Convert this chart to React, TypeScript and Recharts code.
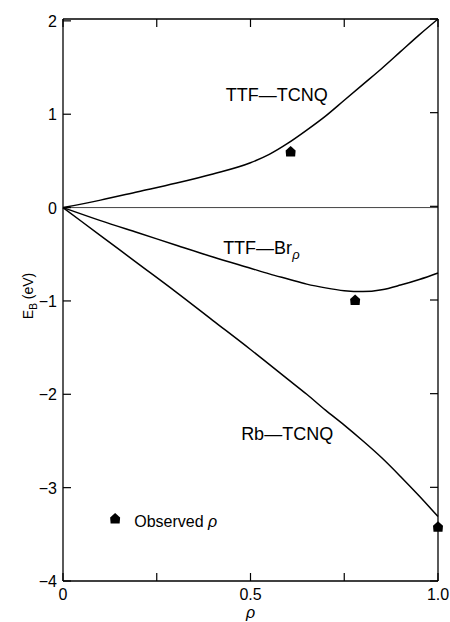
import React from "react";
import {
  ComposedChart,
  Line,
  Scatter,
  XAxis,
  YAxis,
  ReferenceLine,
  ReferenceDot,
} from "recharts";

// ---- data ----
const rhoGrid = [0, 0.1, 0.2, 0.3, 0.4, 0.5, 0.55, 0.6, 0.65, 0.7, 0.75, 0.8, 0.85, 0.9, 0.95, 1.0];
const ttfTcnq = [0, 0.08, 0.17, 0.26, 0.36, 0.48, 0.57, 0.69, 0.83, 0.98, 1.15, 1.32, 1.49, 1.67, 1.85, 2.02];
const ttfBr = [0, -0.14, -0.27, -0.4, -0.53, -0.65, -0.71, -0.765, -0.82, -0.86, -0.89, -0.9, -0.88, -0.83, -0.77, -0.7];
const rbTcnq = [0, -0.3, -0.6, -0.9, -1.21, -1.52, -1.68, -1.84, -2.0, -2.17, -2.33, -2.5, -2.68, -2.88, -3.09, -3.31];

const obsRho = [0.607, 0.779, 1.0];
const obsE = [0.6, -0.99, -3.42];

const xTicks = [0, 0.25, 0.5, 0.75, 1];
const xTickLabels: Record<string, string> = { "0": "0", "0.5": "0.5", "1": "1.0" };
const yTicks = [-4, -3, -2, -1, 0, 1, 2];

const curveLabels = [
  { name: "TTF\u2014TCNQ", rho: 0.434, e: 1.14, sub: "" },
  { name: "TTF\u2014Br", rho: 0.427, e: -0.5, sub: "\u03c1" },
  { name: "Rb\u2014TCNQ", rho: 0.475, e: -2.49, sub: "" },
];
const legendPos = { rho: 0.139, e: -3.33 };
const legendText = { rho: 0.19, e: -3.42, text: "Observed " };

const mk = (ys: number[]) => rhoGrid.map((r, i) => ({ rho: r, E: ys[i] }));
const tcnqData = mk(ttfTcnq);
const brData = mk(ttfBr);
const rbData = mk(rbTcnq);
const obsData = obsRho.map((r, i) => ({ rho: r, E: obsE[i] }));

const FONT = "'Liberation Sans', Arial, Helvetica, sans-serif";
const TL = 8;

const House = ({ cx, cy }: any) => (
  <polygon
    points={`${cx},${cy - 5.5} ${cx + 5},${cy - 1} ${cx + 4.5},${cy + 5} ${cx - 4.5},${cy + 5} ${cx - 5},${cy - 1}`}
    fill="#000"
  />
);

const BottomTick = ({ x, y, payload }: any) => {
  const lab = xTickLabels[String(payload.value)] ?? "";
  return (
    <g>
      <line x1={x} x2={x} y1={y} y2={y - TL} stroke="#000" strokeWidth={1.2} />
      {lab && (
        <text x={x} y={y + 19} textAnchor="middle" fontSize={16} fontFamily={FONT} fill="#000">
          {lab}
        </text>
      )}
    </g>
  );
};
const TopTick = ({ x, y }: any) => (
  <line x1={x} x2={x} y1={y} y2={y + TL} stroke="#000" strokeWidth={1.2} />
);
const LeftTick = ({ x, y, payload }: any) => (
  <g>
    <line x1={x} x2={x + TL} y1={y} y2={y} stroke="#000" strokeWidth={1.2} />
    <text x={x - 6} y={y + 6} textAnchor="end" fontSize={16} fontFamily={FONT} fill="#000">
      {payload.value < 0 ? "\u2212" + Math.abs(payload.value) : String(payload.value)}
    </text>
  </g>
);
const RightTick = ({ x, y }: any) => (
  <line x1={x} x2={x - TL} y1={y} y2={y} stroke="#000" strokeWidth={1.2} />
);

const YLabel = ({ viewBox }: any) => {
  const cx = 33;
  const cy = viewBox.y + viewBox.height / 2 - 4;
  return (
    <text
      x={cx}
      y={cy}
      transform={`rotate(-90, ${cx}, ${cy})`}
      textAnchor="middle"
      fontSize={14}
      fontFamily={FONT}
      fill="#000"
    >
      E<tspan fontSize={10} dy={4}>B</tspan>
      <tspan dy={-4}> (eV)</tspan>
    </text>
  );
};
const XLabel = ({ viewBox }: any) => (
  <text
    x={viewBox.x + viewBox.width / 2}
    y={618}
    textAnchor="middle"
    fontSize={16}
    fontStyle="italic"
    fontFamily={FONT}
    fill="#000"
  >
    {"\u03c1"}
  </text>
);

export default function App() {
  return (
    <div style={{ position: "absolute", left: 0, top: 0, background: "#fff" }}>
      <ComposedChart width={450} height={622} margin={{ top: 18, right: 11, left: 0, bottom: 0 }}>
        <XAxis
          dataKey="rho"
          type="number"
          domain={[0, 1]}
          ticks={xTicks}
          height={41}
          tickSize={0}
          tickMargin={0}
          axisLine={{ stroke: "#000", strokeWidth: 1.3 }}
          tick={<BottomTick />}
          label={<XLabel />}
        />
        <XAxis
          xAxisId="top"
          orientation="top"
          dataKey="rho"
          type="number"
          domain={[0, 1]}
          ticks={xTicks}
          height={1}
          tickSize={0}
          tickMargin={0}
          axisLine={{ stroke: "#000", strokeWidth: 1.3 }}
          tick={<TopTick />}
        />
        <YAxis
          type="number"
          domain={[-4, 2]}
          ticks={yTicks}
          width={63}
          tickSize={0}
          tickMargin={0}
          axisLine={{ stroke: "#000", strokeWidth: 1.3 }}
          tick={<LeftTick />}
          label={<YLabel />}
        />
        <YAxis
          yAxisId="right"
          orientation="right"
          type="number"
          domain={[-4, 2]}
          ticks={yTicks}
          width={1}
          tickSize={0}
          tickMargin={0}
          axisLine={{ stroke: "#000", strokeWidth: 1.3 }}
          tick={<RightTick />}
        />
        <ReferenceLine y={0} stroke="#444" strokeWidth={1} />
        <Line data={tcnqData} dataKey="E" type="monotone" stroke="#000" strokeWidth={1.5} dot={false} isAnimationActive={false} />
        <Line data={brData} dataKey="E" type="monotone" stroke="#000" strokeWidth={1.5} dot={false} isAnimationActive={false} />
        <Line data={rbData} dataKey="E" type="monotone" stroke="#000" strokeWidth={1.5} dot={false} isAnimationActive={false} />
        <Line
          data={rbData}
          dataKey="E"
          xAxisId="top"
          yAxisId="right"
          stroke="none"
          dot={false}
          activeDot={false}
          legendType="none"
          isAnimationActive={false}
        />
        <Scatter data={obsData} dataKey="E" shape={<House />} isAnimationActive={false} />
        {curveLabels.map((c) => (
          <ReferenceDot
            key={c.name}
            x={c.rho}
            y={c.e}
            r={0}
            shape={(p: any) => (
              <text x={p.cx} y={p.cy} fontSize={18} fontFamily={FONT} fill="#000">
                {c.name}
                {c.sub && (
                  <tspan fontSize={13} fontStyle="italic" dy={5}>
                    {c.sub}
                  </tspan>
                )}
              </text>
            )}
          />
        ))}
        <ReferenceDot x={legendPos.rho} y={legendPos.e} r={0} shape={(p: any) => <House cx={p.cx} cy={p.cy} />} />
        <ReferenceDot
          x={legendText.rho}
          y={legendText.e}
          r={0}
          shape={(p: any) => (
            <text x={p.cx} y={p.cy} fontSize={16} fontFamily={FONT} fill="#000">
              {legendText.text}
              <tspan fontStyle="italic">{"\u03c1"}</tspan>
            </text>
          )}
        />
      </ComposedChart>
    </div>
  );
}
